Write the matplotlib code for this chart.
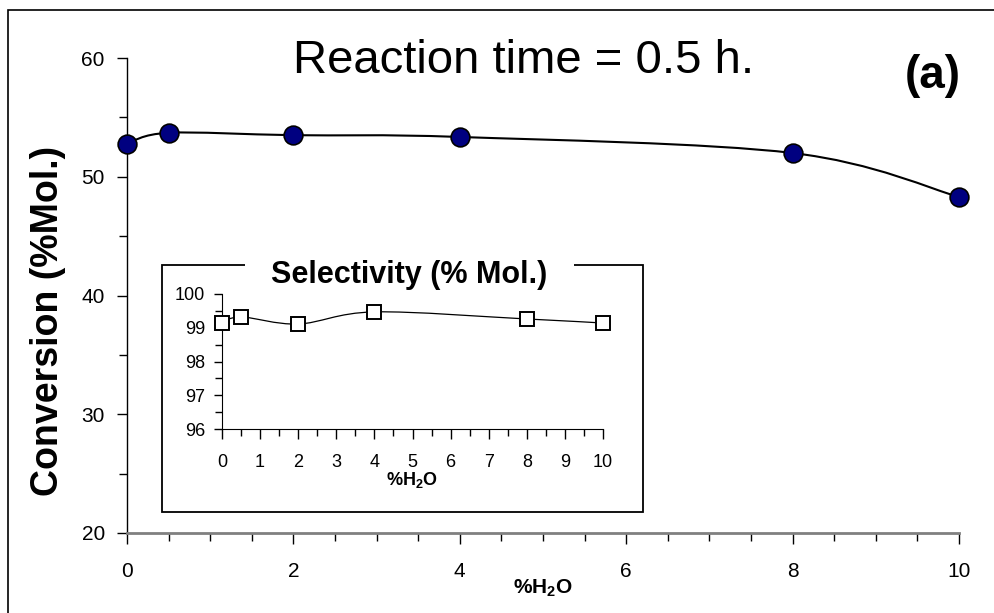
import numpy as np
import matplotlib
matplotlib.use('Agg')
import matplotlib.pyplot as plt
from matplotlib.path import Path
from matplotlib.patches import PathPatch, Rectangle
from matplotlib.ticker import MultipleLocator

plt.rcParams['font.family'] = 'Liberation Sans'
plt.rcParams['mathtext.fontset'] = 'custom'
plt.rcParams['mathtext.rm'] = 'Liberation Sans'
plt.rcParams['mathtext.bf'] = 'Liberation Sans:bold'

# data
water = [0, 0.5, 2, 4, 8, 10]
conversion = [52.8, 53.7, 53.5, 53.35, 52.0, 48.3]
selectivity = [99.14, 99.32, 99.11, 99.47, 99.26, 99.14]


def smooth_path(x, y):
    # excel style smoothed line, catmull-rom segments as cubic beziers
    pts = np.column_stack([x, y]).astype(float)
    ext = np.vstack([pts[0], pts, pts[-1]])
    verts = [tuple(pts[0])]
    codes = [Path.MOVETO]
    for i in range(len(pts) - 1):
        p0, p1, p2, p3 = ext[i], ext[i + 1], ext[i + 2], ext[i + 3]
        c1 = p1 + (p2 - p0) / 6
        c2 = p2 - (p3 - p1) / 6
        verts += [tuple(c1), tuple(c2), tuple(p2)]
        codes += [Path.CURVE4] * 3
    return Path(verts, codes)


W, H = 995, 613
fig = plt.figure(figsize=(W / 100, H / 100), dpi=100)

# outer frame
fig.patches.append(Rectangle((8 / W, -0.05), 1.2, 1 - 10 / H + 0.05, transform=fig.transFigure,
                             fill=False, ec='black', lw=1.2))

ax = fig.add_axes([127 / W, 1 - 533 / H, 832 / W, 475 / H])
ax.set_xlim(0, 10)
ax.set_ylim(20, 60)
ax.spines['top'].set_visible(False)
ax.spines['right'].set_visible(False)
ax.spines['bottom'].set_color('#808080')
ax.spines['bottom'].set_linewidth(2)
ax.spines['left'].set_linewidth(1)
ax.xaxis.set_major_locator(MultipleLocator(2))
ax.xaxis.set_minor_locator(MultipleLocator(0.5))
ax.yaxis.set_major_locator(MultipleLocator(10))
ax.yaxis.set_minor_locator(MultipleLocator(5))
ax.tick_params(axis='x', which='major', direction='out', length=8, width=1, labelsize=15, pad=13)
ax.tick_params(axis='x', which='minor', direction='out', length=6, width=1)
ax.tick_params(axis='y', which='major', direction='out', length=7, width=1, labelsize=15, pad=9)
ax.tick_params(axis='y', which='minor', direction='out', length=6, width=1)

ax.add_patch(PathPatch(smooth_path(water, conversion), fill=False, ec='black', lw=1.5))
ax.plot(water, conversion, 'o', ms=13.5, mfc='#000080', mec='black', mew=1.2, clip_on=False, zorder=5)

fig.text(524 / W, 1 - 73 / H, 'Reaction time = 0.5 h.', fontsize=34, ha='center', va='baseline')
fig.text(905 / W, 1 - 88 / H, '(a)', fontsize=33, fontweight='bold', ha='left', va='baseline')
fig.text(48 / W, 1 - 321 / H, 'Conversion (%Mol.)', fontsize=27, fontweight='bold',
         rotation=90, ha='center', va='center')
fig.text(543 / W, 1 - 588 / H, r'%H$_\mathbf{2}$O', fontsize=15, fontweight='bold', ha='center', va='center')

# inset box, with a gap in the top edge for its title
fig.patches.append(Rectangle((162 / W, 1 - 512 / H), 481 / W, 247 / H, transform=fig.transFigure,
                             fc='white', ec='black', lw=1.3, zorder=1))
fig.patches.append(Rectangle((245 / W, 1 - 269 / H), 329 / W, 8 / H, transform=fig.transFigure,
                             fc='white', ec='none', zorder=1.5))

ins = fig.add_axes([222 / W, 1 - 429 / H, 381 / W, 135 / H])
ins.set_zorder(2)
ins.patch.set_alpha(0)
ins.set_xlim(0, 10)
ins.set_ylim(96, 100)
ins.spines['top'].set_visible(False)
ins.spines['right'].set_visible(False)
ins.xaxis.set_major_locator(MultipleLocator(1))
ins.xaxis.set_minor_locator(MultipleLocator(0.5))
ins.yaxis.set_major_locator(MultipleLocator(1))
ins.yaxis.set_minor_locator(MultipleLocator(0.5))
ins.tick_params(axis='x', which='major', direction='out', length=7, width=1, labelsize=13, pad=11)
ins.tick_params(axis='x', which='minor', direction='out', length=5, width=1)
ins.tick_params(axis='y', which='major', direction='out', length=6, width=1, labelsize=13, pad=6)
ins.tick_params(axis='y', which='minor', direction='out', length=5, width=1)

ins.add_patch(PathPatch(smooth_path(water, selectivity), fill=False, ec='black', lw=0.9))
ins.plot(water, selectivity, 's', ms=10, mfc='white', mec='black', mew=1.4, clip_on=False, zorder=5)

fig.text(409 / W, 1 - 283 / H, 'Selectivity (% Mol.)', fontsize=22, fontweight='bold',
         ha='center', va='baseline', zorder=3)
fig.text(412 / W, 1 - 480 / H, r'%H$_\mathbf{2}$O', fontsize=13, fontweight='bold', ha='center', va='center',
         zorder=3)

fig.savefig('out.png', dpi=100)
